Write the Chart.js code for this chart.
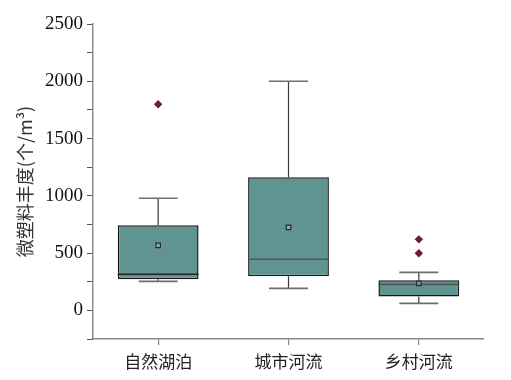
<!DOCTYPE html>
<html>
<head>
<meta charset="utf-8">
<script src="https://cdn.jsdelivr.net/npm/chart.js@4/dist/chart.umd.min.js"></script>
<style>
html,body{margin:0;padding:0;background:#fff;}
#wrap{width:511px;height:380px;}
</style>
</head>
<body>
<div id="wrap"><canvas id="c" width="511" height="380"></canvas></div>
<script>
const categories = ['自然湖泊', '城市河流', '乡村河流'];
const whiskerLow = [253, 192, 61];
const q1 = [271, 297, 122];
const median = [315, 446, 227];
const q3 = [743, 1163, 262];
const whiskerHigh = [979, 2000, 332];
const means = [568, 725, 236];
const outliers = [[1800], [], [620, 498]];
const yTicks = [0, 500, 1000, 1500, 2000, 2500];

const boxFill = '#5f9490';
const outlierColor = '#6b1a3d';

const outlierPoints = [];
outliers.forEach((arr, i) => arr.forEach(v => outlierPoints.push({x: categories[i], y: v})));

const boxPlugin = {
  id: 'boxParts',
  beforeDatasetsDraw(chart) {
    const ctx = chart.ctx, xs = chart.scales.x, ys = chart.scales.y;
    ctx.save();
    categories.forEach((c, i) => {
      const x = xs.getPixelForValue(i);
      const capHalf = 19.5;
      ctx.strokeStyle = '#3a3a3a';
      ctx.lineWidth = 1.2;
      ctx.beginPath();
      ctx.moveTo(x, ys.getPixelForValue(whiskerHigh[i]));
      ctx.lineTo(x, ys.getPixelForValue(q3[i]));
      ctx.moveTo(x, ys.getPixelForValue(q1[i]));
      ctx.lineTo(x, ys.getPixelForValue(whiskerLow[i]));
      ctx.stroke();
      ctx.strokeStyle = '#6e6e6e';
      ctx.lineWidth = 1.6;
      ctx.beginPath();
      [whiskerHigh[i], whiskerLow[i]].forEach(v => {
        const y = ys.getPixelForValue(v);
        ctx.moveTo(x - capHalf, y);
        ctx.lineTo(x + capHalf, y);
      });
      ctx.stroke();
    });
    ctx.restore();
  },
  afterDatasetDraw(chart, args) {
    if (args.index !== 0) return;
    const ctx = chart.ctx, xs = chart.scales.x, ys = chart.scales.y;
    const meta = chart.getDatasetMeta(0);
    ctx.save();
    categories.forEach((c, i) => {
      const bar = meta.data[i];
      const half = bar.width / 2;
      const x = xs.getPixelForValue(i);
      const y = ys.getPixelForValue(median[i]);
      ctx.strokeStyle = i === 0 ? '#222' : '#555';
      ctx.lineWidth = 1.6;
      ctx.beginPath();
      ctx.moveTo(x - half, y);
      ctx.lineTo(x + half, y);
      ctx.stroke();
    });
    ctx.restore();
  }
};

new Chart(document.getElementById('c'), {
  type: 'bar',
  data: {
    labels: categories,
    datasets: [
      {
        type: 'bar',
        data: categories.map((c, i) => [q1[i], q3[i]]),
        backgroundColor: boxFill,
        borderColor: '#1a1a1a',
        borderWidth: 1.5,
        borderSkipped: false,
        barPercentage: 0.62,
        categoryPercentage: 1.0,
        order: 3
      },
      {
        type: 'line',
        data: means,
        showLine: false,
        pointStyle: 'rect',
        pointRadius: 3.2,
        pointBackgroundColor: 'rgba(255,255,255,0.25)',
        pointBorderColor: '#2a2a2a',
        pointBorderWidth: 1.2,
        order: 1
      },
      {
        type: 'line',
        data: outlierPoints,
        showLine: false,
        pointStyle: 'rectRot',
        pointRadius: 4.2,
        pointBackgroundColor: outlierColor,
        pointBorderColor: outlierColor,
        pointBorderWidth: 0,
        order: 2
      }
    ]
  },
  options: {
    responsive: false,
    animation: false,
    devicePixelRatio: 1,
    layout: {padding: {top: 24, right: 27, bottom: 0, left: 0}},
    plugins: {legend: {display: false}, tooltip: {enabled: false}},
    scales: {
      x: {
        offset: true,
        grid: {display: true, drawOnChartArea: false, offset: false, tickLength: 6, color: '#888', lineWidth: 1.2},
        border: {color: '#888', width: 1.5},
        ticks: {font: {family: '"Noto Sans CJK SC"', size: 17}, color: '#222', padding: 6},
        afterFit(s) { s.height = 41; }
      },
      y: {
        min: -250,
        max: 2500,
        grid: {display: true, drawOnChartArea: false, tickLength: 6, color: '#555', lineWidth: 1},
        border: {color: '#888', width: 1.5},
        ticks: {
          stepSize: 250,
          autoSkip: false,
          font: {family: '"Liberation Serif"', size: 19},
          color: '#111',
          padding: 4,
          callback: v => yTicks.includes(v) ? String(v) : ''
        },
        title: {
          display: true,
          text: '微塑料丰度(个/m³)',
          font: {family: '"Noto Sans CJK SC"', size: 18},
          color: '#333',
          padding: {top: 14, bottom: 0}
        },
        afterFit(s) { s.width = 93; }
      }
    }
  },
  plugins: [boxPlugin]
});
</script>
</body>
</html>
